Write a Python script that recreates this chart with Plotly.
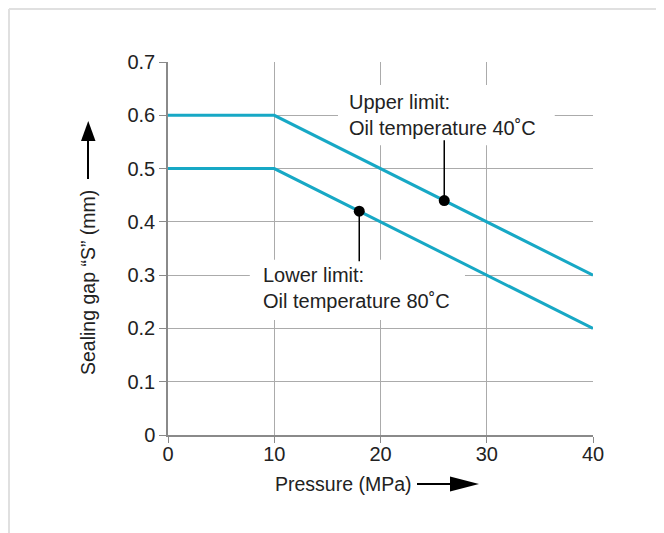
import plotly.graph_objects as go

# ---- data ----
pressure = [0, 10, 40]
upper_gap = [0.6, 0.6, 0.3]   # Upper limit: oil temperature 40°C
lower_gap = [0.5, 0.5, 0.2]   # Lower limit: oil temperature 80°C

marker_x = [26, 18]
marker_y = [0.44, 0.42]
stem_end_y = [0.553, 0.326]

x_ticks = [0, 10, 20, 30, 40]
x_ticklabels = ["0", "10", "20", "30", "40"]
y_ticks = [0, 0.1, 0.2, 0.3, 0.4, 0.5, 0.6, 0.7]
y_ticklabels = ["0", "0.1", "0.2", "0.3", "0.4", "0.5", "0.6", "0.7"]

label_texts = ["Upper limit:<br>Oil temperature 40˚C", "Lower limit:<br>Oil temperature 80˚C"]
label_x = [16.85, 8.75]
label_y = [0.6, 0.2755]
box_x0 = [16.0, 7.7]
box_x1 = [36.4, 27.95]
box_y0 = [0.544, 0.216]
box_y1 = [0.657, 0.329]

x_title = "Pressure (MPa)"
y_title = "Sealing gap “S” (mm)"

LINE = "#17A8C5"
GRID = "#ababab"
AXIS = "#8a8a8a"
TXT = "#222222"
FONT = "Liberation Sans, Arial, sans-serif"

fig = go.Figure()
fig.add_trace(go.Scatter(x=pressure, y=upper_gap, mode="lines",
                         line=dict(color=LINE, width=3), showlegend=False))
fig.add_trace(go.Scatter(x=pressure, y=lower_gap, mode="lines",
                         line=dict(color=LINE, width=3), showlegend=False))
for mx, my, sy in zip(marker_x, marker_y, stem_end_y):
    fig.add_trace(go.Scatter(x=[mx, mx], y=[my, sy], mode="lines",
                             line=dict(color="black", width=1.5), showlegend=False))
fig.add_trace(go.Scatter(x=marker_x, y=marker_y, mode="markers",
                         marker=dict(color="black", size=11), showlegend=False))

shapes = []
for x0, x1, y0, y1 in zip(box_x0, box_x1, box_y0, box_y1):
    shapes.append(dict(type="rect", xref="x", yref="y", x0=x0, x1=x1, y0=y0, y1=y1,
                       fillcolor="white", line=dict(width=0), layer="between"))

# page-pixel -> paper helpers (page has an 8px body margin)
W, H = 425.0, 373.0
L, T = 168.0, 62.0
def px(x):
    return (x - L) / W
def py(y):
    return 1 - (y - T) / H

# outer frame (light gray) at the figure edge
frame = "#e0e0e0"
shapes.append(dict(type="line", xref="paper", yref="paper", x0=px(9), x1=px(700),
                   y0=py(9), y1=py(9), line=dict(color=frame, width=2)))
shapes.append(dict(type="line", xref="paper", yref="paper", x0=px(9), x1=px(9),
                   y0=py(9), y1=py(560), line=dict(color=frame, width=2)))

# y-axis arrow
shapes.append(dict(type="line", xref="paper", yref="paper", x0=px(88), x1=px(88),
                   y0=py(179), y1=py(138), line=dict(color="black", width=2)))
shapes.append(dict(type="path", xref="paper", yref="paper",
                   path=f"M {px(81)} {py(141)} L {px(95.5)} {py(141)} L {px(88.25)} {py(121)} Z",
                   fillcolor="black", line=dict(width=0)))
# x-axis arrow
shapes.append(dict(type="line", xref="paper", yref="paper", x0=px(417), x1=px(452),
                   y0=py(484), y1=py(484), line=dict(color="black", width=2)))
shapes.append(dict(type="path", xref="paper", yref="paper",
                   path=f"M {px(450)} {py(476.5)} L {px(450)} {py(491.5)} L {px(479)} {py(484)} Z",
                   fillcolor="black", line=dict(width=0)))

annotations = []
for t, x, y in zip(label_texts, label_x, label_y):
    annotations.append(dict(text=t, x=x, y=y, xref="x", yref="y", showarrow=False,
                            xanchor="left", yanchor="middle", align="left",
                            font=dict(size=20, color=TXT, family=FONT)))
annotations.append(dict(text=x_title, x=px(343), y=py(484), xref="paper", yref="paper",
                        showarrow=False, xanchor="center", yanchor="middle",
                        font=dict(size=19.5, color=TXT, family=FONT)))
annotations.append(dict(text=y_title, x=px(88), y=py(283), xref="paper", yref="paper",
                        showarrow=False, xanchor="center", yanchor="middle", textangle=-90,
                        font=dict(size=19.5, color=TXT, family=FONT)))

fig.update_layout(
    width=664, height=533,
    margin=dict(l=160, r=79, t=54, b=106),
    paper_bgcolor="white", plot_bgcolor="white",
    shapes=shapes, annotations=annotations,
    font=dict(family=FONT, color=TXT),
)
fig.update_xaxes(range=[0, 40], tickvals=x_ticks, ticktext=x_ticklabels,
                 showgrid=True, gridcolor=GRID, gridwidth=1,
                 showline=True, linecolor=AXIS, linewidth=1.5, mirror=False,
                 ticks="",
                 minor=dict(tickvals=x_ticks, ticks="outside", ticklen=6,
                            tickcolor=AXIS, showgrid=False),
                 tickfont=dict(size=20, color=TXT, family=FONT), zeroline=False)
fig.update_yaxes(range=[0, 0.7], tickvals=y_ticks, ticktext=y_ticklabels,
                 showgrid=True, gridcolor=GRID, gridwidth=1,
                 showline=True, linecolor=AXIS, linewidth=1.5, mirror=False,
                 ticks="outside", ticklen=7, tickcolor=AXIS,
                 tickfont=dict(size=20, color=TXT, family=FONT), zeroline=False)

fig.write_html("out.html")
